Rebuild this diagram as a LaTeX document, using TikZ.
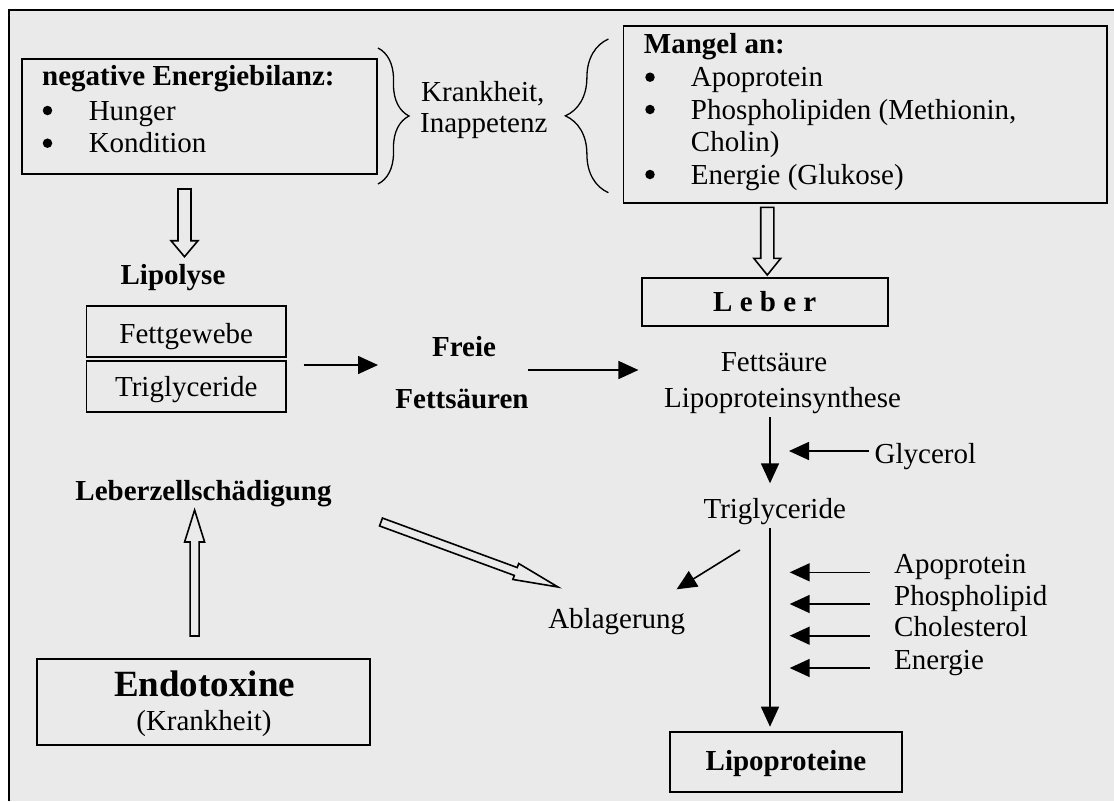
\documentclass[tikz,border=0pt]{standalone}
\usepackage{fontspec}
\setmainfont{Liberation Serif}
\usetikzlibrary{arrows.meta,calc,decorations.pathreplacing}
\definecolor{bgray}{RGB}{234,234,234}

% hollow block arrow: from, to, shaft half width, head half width, head length
\newcommand\hollowarrow[5]{%
  \coordinate (hb) at ($(#2)!#5!(#1)$);
  \draw[hollow] ($(#1)!#3!90:(#2)$) -- ($(hb)!#3!90:(#2)$) -- ($(hb)!#4!90:(#2)$) -- (#2)
    -- ($(hb)!#4!-90:(#2)$) -- ($(hb)!#3!-90:(#2)$) -- ($(#1)!#3!-90:(#2)$) -- cycle;}

\begin{document}
\fontsize{29}{33}\selectfont
\begin{tikzpicture}[x=1pt,y=-1pt,
  box/.style={draw,line width=1.8pt,inner sep=0pt},
  lbl/.style={inner sep=0pt,anchor=base},
  lbll/.style={inner sep=0pt,anchor=base west},
  dot/.style={circle,fill,inner sep=0pt,minimum size=9.5pt},
  arr/.style={line width=1.6pt,-{Triangle[length=20pt,width=18pt]}},
  hollow/.style={draw,line width=1.6pt},
  brc/.style={decorate,decoration={brace,amplitude=#1},line width=1.3pt}]
\useasboundingbox (0,0) rectangle (1114,801);
\fill[bgray] (9,10) rectangle (1114,801);
\draw[line width=1.8pt] (9,801) -- (9,10) -- (1114,10);

% causes
\node[box,anchor=north west,minimum width=355pt,minimum height=115pt] (neg) at (21,58) {};
\node[lbll,font=\bfseries] (negt) at (42,85) {negative Energiebilanz:};
\node[dot] (b1) at (47.5,110.5) {};
\node[lbll] (hung) at (88.6,120) {Hunger};
\node[dot] (b2) at (47.5,143.2) {};
\node[lbll] (kond) at (88.6,152.7) {Kondition};

\draw[brc=31pt] (378,48) -- (378,184);
\node[lbll] (krank) at (421,101.7) {Krankheit,};
\node[lbll] (inapp) at (420,132.7) {Inappetenz};
\draw[brc=43pt] (608.4,192.7) -- (608.4,39);

\node[box,anchor=north west,minimum width=483.5pt,minimum height=177.3pt] (mangel) at (622.5,25) {};
\node[lbll,font=\bfseries] (mant) at (643.7,53.3) {Mangel an:};
\node[dot] (b3) at (650,77.2) {};
\node[lbll] (m1) at (690.7,86.7) {Apoprotein};
\node[dot] (b4) at (650,109.5) {};
\node[lbll] (m2) at (690.7,119) {Phospholipiden (Methionin,};
\node[lbll] (m3) at (690.7,151.7) {Cholin)};
\node[dot] (b5) at (650,174.5) {};
\node[lbll] (m4) at (690.7,184) {Energie (Glukose)};

% lipolyse
\coordinate (h1s) at (184.5,189);
\coordinate (h1e) at (184.5,256.7);
\hollowarrow{h1s}{h1e}{6.5pt}{13.5pt}{16pt}
\node[lbl,font=\bfseries] (lipo) at (173,284) {Lipolyse};
\node[box,anchor=base,minimum width=199.5pt,text height=37.3pt,text depth=13.4pt] (fett) at (186.25,343.3) {Fettgewebe};
\node[box,anchor=base,minimum width=199.5pt,text height=35.7pt,text depth=15.6pt] (trig) at (186.25,396.7) {Triglyceride};
\node[lbl,font=\bfseries] (freie) at (464,356.7) {Freie};
\node[lbl,font=\bfseries] (ffs) at (462,408.3) {Fettsäuren};
\coordinate (a1s) at (303.6,365);
\coordinate (a1e) at (378,365);
\coordinate (a2s) at (528,370);
\coordinate (a2e) at (638.4,370);
\draw[arr] (a1s) -- (a1e);
\draw[arr] (a2s) -- (a2e);

% liver
\coordinate (h2s) at (767.3,207.3);
\coordinate (h2e) at (767.3,275);
\hollowarrow{h2s}{h2e}{6.6pt}{13.5pt}{16.7pt}
\node[box,anchor=base,minimum width=246pt,text height=32.7pt,text depth=15pt,font=\bfseries] (leber) at (764.7,311) {L e b e r};
\node[lbl] (fsre) at (774,371) {Fettsäure};
\node[lbl] (lps) at (782.6,407.7) {Lipoproteinsynthese};
\node[lbll] (glyc) at (874.5,463.3) {Glycerol};
\node[lbl] (tg) at (774.7,518.3) {Triglyceride};
\node[lbl] (abl) at (616.7,628.3) {Ablagerung};
\node[box,anchor=base,minimum width=232pt,text height=38pt,text depth=21.7pt,font=\bfseries] (lpp) at (786,770) {Lipoproteine};
\coordinate (a3s) at (770,416.7);
\coordinate (a3e) at (770,483.3);
\coordinate (gs) at (868.5,451);
\coordinate (ge) at (789,451);
\coordinate (a4s) at (770,528.3);
\coordinate (a4e) at (770,726.7);
\coordinate (a5s) at (740,550);
\coordinate (a5e) at (676.6,589.3);
\draw[arr] (a3s) -- (a3e);
\draw[arr] (gs) -- (ge);
\draw[arr] (a4s) -- (a4e);
\draw[arr] (a5s) -- (a5e);
\foreach \t/\y [count=\i] in {Apoprotein/573.3,Phospholipid/605,Cholesterol/636.7,Energie/669}{
  \node[lbll] (in\i) at (894,\y) {\t};
  \coordinate (ins\i) at (869.5,\y-1);
  \coordinate (ine\i) at (789.7,\y-1);
  \draw[arr] (ins\i) -- (ine\i);
}

% endotoxins
\node[lbl,font=\bfseries] (lzs) at (203.5,500) {Leberzellschädigung};
\node[box,anchor=north west,minimum width=333.3pt,minimum height=86.3pt] (endo) at (35.7,657.7) {};
\node[lbl,font=\fontsize{37}{40}\selectfont\bfseries] (endot) at (204.6,696.7) {Endotoxine};
\node[lbl] (endok) at (204,730) {(Krankheit)};
\coordinate (h3s) at (194.6,636);
\coordinate (h3e) at (194.6,510);
\hollowarrow{h3s}{h3e}{4.5pt}{10pt}{32pt}
\coordinate (h4s) at (381,522);
\coordinate (h4e) at (558,587);
\hollowarrow{h4s}{h4e}{4.2pt}{8.5pt}{45pt}
\end{tikzpicture}
\end{document}
